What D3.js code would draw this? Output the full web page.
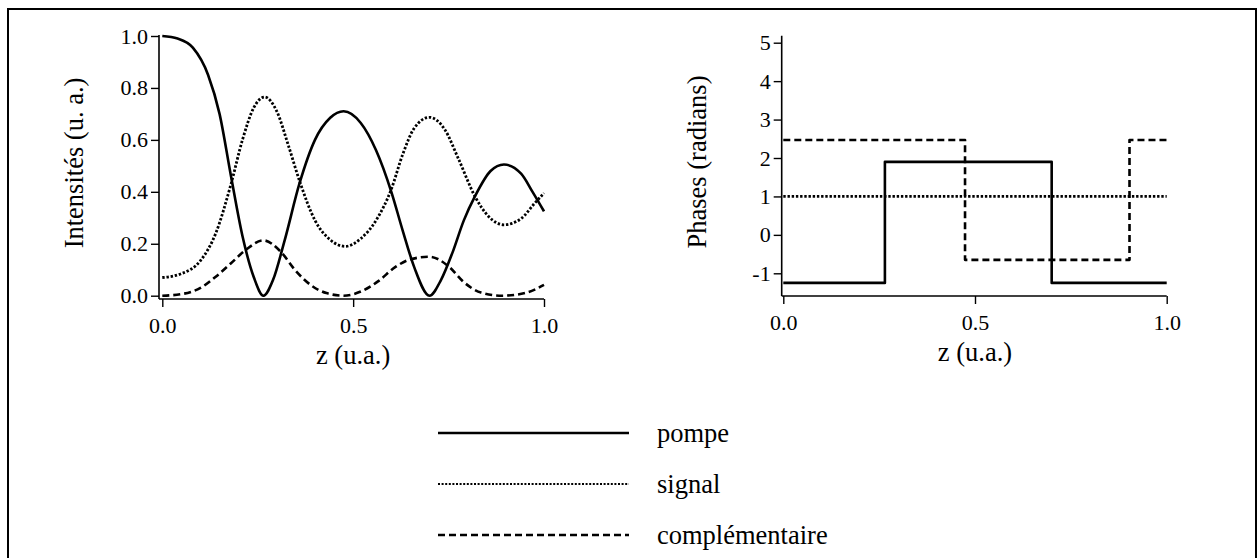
<!DOCTYPE html>
<html><head><meta charset="utf-8">
<script src="https://cdn.jsdelivr.net/npm/d3@7"></script>
<style>
html,body{margin:0;padding:0;background:#fff;}
svg{display:block;}
svg text{font-family:'Liberation Serif','DejaVu Serif',serif !important;fill:#000;}
</style></head>
<body>
<svg id="c" width="1258" height="558"></svg>
<script>
// ---------- data ----------
const zPompe = [0,0.04,0.08,0.12,0.15,0.18,0.21,0.24,0.265,0.29,0.32,0.36,0.40,0.44,0.475,0.52,0.56,0.60,0.63,0.66,0.70,0.73,0.76,0.79,0.82,0.86,0.895,0.94,0.97,1.0];
const iPompe = [1.0,0.99,0.955,0.85,0.70,0.46,0.23,0.07,0.0,0.06,0.21,0.435,0.60,0.685,0.71,0.665,0.56,0.40,0.25,0.11,0.0,0.06,0.165,0.29,0.385,0.48,0.505,0.47,0.40,0.325];
const zSignal = [0,0.05,0.10,0.14,0.18,0.21,0.24,0.268,0.30,0.33,0.36,0.40,0.44,0.48,0.52,0.56,0.60,0.63,0.66,0.70,0.74,0.775,0.82,0.855,0.895,0.94,0.975,1.0];
const iSignal = [0.07,0.085,0.135,0.24,0.43,0.60,0.725,0.765,0.71,0.58,0.44,0.29,0.215,0.19,0.22,0.29,0.41,0.545,0.645,0.687,0.64,0.53,0.38,0.305,0.273,0.297,0.355,0.395];
const zCompl = [0,0.05,0.10,0.14,0.18,0.22,0.265,0.31,0.35,0.39,0.43,0.475,0.52,0.565,0.61,0.65,0.70,0.75,0.79,0.835,0.89,0.95,1.0];
const iCompl = [0.0,0.006,0.03,0.073,0.125,0.178,0.213,0.17,0.095,0.04,0.01,0.0,0.016,0.055,0.11,0.14,0.15,0.113,0.052,0.012,0.0,0.01,0.042];

const zPhPompe = [0,0.265,0.70,1.0];
const phPompe  = [-1.25,1.9,-1.25,-1.25];
const zPhSignal = [0,1.0];
const phSignal  = [1.0,1.0];
const zPhCompl = [0,0.474,0.903,1.0];
const phCompl  = [2.47,-0.65,2.47,2.47];

const xTicks = [0,0.5,1.0];
const yTicksI = [0,0.2,0.4,0.6,0.8,1.0];
const yTicksP = [-1,0,1,2,3,4,5];
const legendNames = ["pompe","signal","complémentaire"];

// ---------- styles ----------
const styles = {
  pompe: {w:2.6, dash:null},
  signal:{w:2.8, dash:"2.4,1.8"},
  compl: {w:2.6, dash:"7,4"}
};
const FS = 22;     // tick labels
const FT = 26.5;   // titles & legend
const FONT = "'Liberation Serif','DejaVu Serif',serif";

const svg = d3.select("#c");
svg.append("rect").attr("x",8).attr("y",9).attr("width",1248).attr("height",560)
  .attr("fill","none").attr("stroke","#000").attr("stroke-width",2);

function panel(cfg){
  const g = svg.append("g");
  const x = d3.scaleLinear().domain([0,1]).range(cfg.xr);
  const y = d3.scaleLinear().domain(cfg.yd).range(cfg.yr);
  g.append("line").attr("x1",cfg.axX).attr("x2",cfg.axX).attr("y1",y(cfg.yTop)).attr("y2",cfg.axY)
    .attr("stroke","#000").attr("stroke-width",1.6);
  g.append("line").attr("x1",cfg.axX).attr("x2",x(1)).attr("y1",cfg.axY).attr("y2",cfg.axY)
    .attr("stroke","#000").attr("stroke-width",1.6);
  const ya = g.append("g").attr("transform",`translate(${cfg.axX},0)`)
    .call(d3.axisLeft(y).tickValues(cfg.yTicks).tickFormat(cfg.yFmt).tickSize(8).tickPadding(3));
  ya.select(".domain").remove();
  ya.attr("font-family",FONT).attr("font-size",FS);
  ya.selectAll("line").attr("stroke-width",1.4);
  ya.selectAll("text").style("font-family",FONT).style("font-size",FS+"px");
  const xa = g.append("g").attr("transform",`translate(0,${cfg.axY})`)
    .call(d3.axisBottom(x).tickValues(xTicks).tickFormat(d3.format(".1f")).tickSize(8).tickPadding(10));
  xa.select(".domain").remove();
  xa.attr("font-family",FONT).attr("font-size",FS);
  xa.selectAll("line").attr("stroke-width",1.4);
  xa.selectAll("text").style("font-family",FONT).style("font-size",FS+"px");
  g.append("text").attr("x",(x(0)+x(1))/2).attr("y",cfg.xTitleY).attr("text-anchor","middle")
    .attr("dominant-baseline","central")
    .style("font-family",FONT).style("font-size",FT+"px").text("z (u.a.)");
  g.append("text").attr("transform",`translate(${cfg.yTitleX},${cfg.yTitleY}) rotate(-90)`)
    .attr("text-anchor","middle").attr("dominant-baseline","central")
    .style("font-family",FONT).style("font-size",FT+"px").text(cfg.yTitle);
  cfg.series.forEach(s=>{
    const pts = s.z.map((z,i)=>[z,s.v[i]]);
    const line = d3.line().x(d=>x(d[0])).y(d=>y(d[1])).curve(s.curve);
    g.append("path").attr("d",line(pts)).attr("fill","none").attr("stroke","#000")
      .attr("stroke-width",s.st.w).attr("stroke-dasharray",s.st.dash)
      .attr("stroke-linejoin","round");
  });
}

panel({
  xr:[162.3,544], yd:[0,1], yr:[295.7,36], axX:159, axY:299, yTop:1.004,
  yTicks:yTicksI, yFmt:d3.format(".1f"), xTitleY:355, yTitleX:74, yTitleY:163,
  yTitle:"Intensités (u. a.)",
  series:[
    {z:zPompe,v:iPompe,st:styles.pompe,curve:d3.curveMonotoneX},
    {z:zSignal,v:iSignal,st:styles.signal,curve:d3.curveMonotoneX},
    {z:zCompl,v:iCompl,st:styles.compl,curve:d3.curveMonotoneX}
  ]
});
panel({
  xr:[783.3,1166.7], yd:[-1,5], yr:[273.3,42.7], axX:781.7, axY:296, yTop:5.18,
  yTicks:yTicksP, yFmt:d=>String(d).replace("\u2212","-"), xTitleY:352, yTitleX:697, yTitleY:162,
  yTitle:"Phases (radians)",
  series:[
    {z:zPhPompe,v:phPompe,st:styles.pompe,curve:d3.curveStepAfter},
    {z:zPhSignal,v:phSignal,st:styles.signal,curve:d3.curveStepAfter},
    {z:zPhCompl,v:phCompl,st:styles.compl,curve:d3.curveStepAfter}
  ]
});

const legY = d3.scalePoint().domain(legendNames).range([433,535]);
const legSt = [styles.pompe,{w:2.2,dash:"2,1.6"},styles.compl];
legendNames.forEach((n,i)=>{
  svg.append("line").attr("x1",438).attr("x2",629).attr("y1",legY(n)).attr("y2",legY(n))
    .attr("stroke","#000").attr("stroke-width",legSt[i].w).attr("stroke-dasharray",legSt[i].dash);
  svg.append("text").attr("x",657).attr("y",legY(n)).attr("dominant-baseline","central")
    .style("font-family",FONT).style("font-size",FT+"px").text(n);
});
</script>
</body></html>
